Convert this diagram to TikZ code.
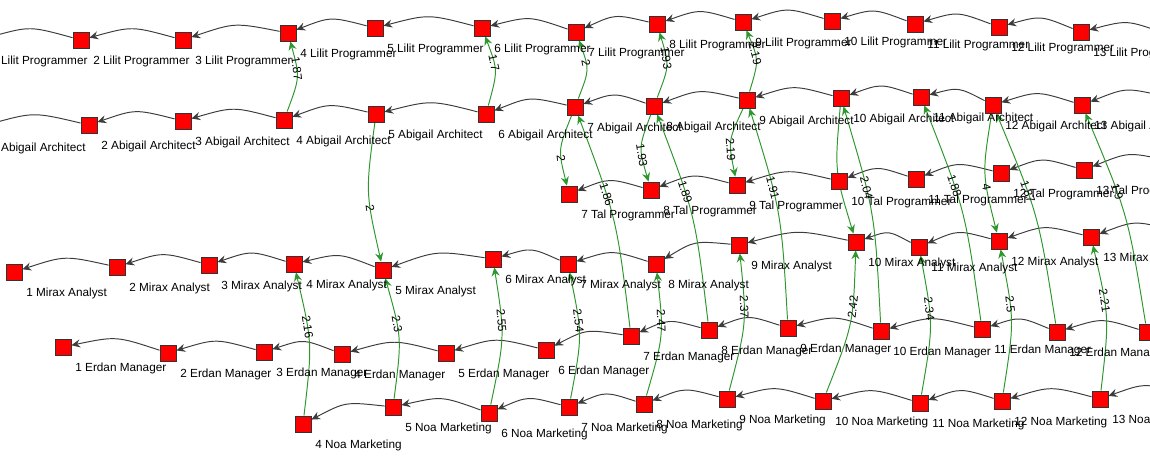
\documentclass[tikz,border=0pt]{standalone}
\usepackage{fontspec}
\setmainfont{Liberation Sans}
\usepackage{xcolor}
\usepackage{tikz}
\usetikzlibrary{arrows.meta, calc}

\pgfdeclarelayer{edges}
\pgfsetlayers{edges,main}

\definecolor{linkgreen}{RGB}{45,150,45}
\definecolor{rowgray}{RGB}{60,60,60}

\tikzset{
  box/.style={draw=black!80, fill=red, line width=0.5pt, minimum size=0.32cm, inner sep=0pt},
  vlabel/.style={anchor=west, inner sep=0pt, font=\fontsize{6.7}{8}\selectfont},
  qcurve/.style={to path={.. controls ($(\tikztostart)!0.5!(\tikztotarget)!0.28cm!-90:(\tikztotarget)$) .. (\tikztotarget) \tikztonodes}},
  row/.style={qcurve, draw=rowgray, line width=0.55pt, -{Stealth[length=5pt, width=4.6pt, inset=1.7pt]}},
  link/.style={qcurve, draw=linkgreen, line width=0.55pt, -{Stealth[length=5pt, width=4.6pt, inset=1.7pt]}},
  w/.style={pos=0.65, sloped, inner sep=0.5pt, font=\fontsize{6.7}{8}\selectfont}
}

% vertex with its label
\newcommand{\vtx}[4]{%
  \node[box] (#1) at (#2,#3) {};
  \node[vlabel] (#1t) at ([shift={(12,21)}]#1.center) {#4};}

\begin{document}
\begin{tikzpicture}[x=0.02cm, y=-0.02cm]
    \useasboundingbox (0,0) rectangle (1150,462);
    \clip (0,0) rectangle (1150,462);

    % Lilit Programmer
    \vtx{L1}{-21}{40}{1 Lilit Programmer}
    \vtx{L2}{81}{40}{2 Lilit Programmer}
    \vtx{L3}{183}{40}{3 Lilit Programmer}
    \vtx{L4}{288}{33}{4 Lilit Programmer}
    \vtx{L5}{375}{28}{5 Lilit Programmer}
    \vtx{L6}{482}{28}{6 Lilit Programmer}
    \vtx{L7}{576}{32}{7 Lilit Programmer}
    \vtx{L8}{657}{24}{8 Lilit Programmer}
    \vtx{L9}{743}{22}{9 Lilit Programmer}
    \vtx{L10}{832}{21}{10 Lilit Programmer}
    \vtx{L11}{915}{24}{11 Lilit Programmer}
    \vtx{L12}{999}{27}{12 Lilit Programmer}
    \vtx{L13}{1081}{32}{13 Lilit Programmer}
    \vtx{L14}{1172}{36}{14 Lilit Programmer}

    % Abigail Architect
    \vtx{A1}{-21}{127}{1 Abigail Architect}
    \vtx{A2}{89}{125}{2 Abigail Architect}
    \vtx{A3}{183}{121}{3 Abigail Architect}
    \vtx{A4}{284}{120}{4 Abigail Architect}
    \vtx{A5}{376}{114}{5 Abigail Architect}
    \vtx{A6}{486}{114}{6 Abigail Architect}
    \vtx{A7}{575}{107}{7 Abigail Architect}
    \vtx{A8}{654}{106}{8 Abigail Architect}
    \vtx{A9}{747}{100}{9 Abigail Architect}
    \vtx{A10}{841}{98}{10 Abigail Architect}
    \vtx{A11}{921}{97}{11 Abigail Architect}
    \vtx{A12}{993}{105}{12 Abigail Architect}
    \vtx{A13}{1082}{105}{13 Abigail Architect}
    \vtx{A14}{1172}{98}{14 Abigail Architect}

    % Tal Programmer
    \vtx{T7}{569}{194}{7 Tal Programmer}
    \vtx{T8}{651}{190}{8 Tal Programmer}
    \vtx{T9}{737}{185}{9 Tal Programmer}
    \vtx{T10}{839}{181}{10 Tal Programmer}
    \vtx{T11}{916}{179}{11 Tal Programmer}
    \vtx{T12}{1001}{173}{12 Tal Programmer}
    \vtx{T13}{1084}{170}{13 Tal Programmer}
    \vtx{T14}{1175}{162}{14 Tal Programmer}

    % Mirax Analyst
    \vtx{M1}{14}{272}{1 Mirax Analyst}
    \vtx{M2}{117}{267}{2 Mirax Analyst}
    \vtx{M3}{209}{265}{3 Mirax Analyst}
    \vtx{M4}{294}{264}{4 Mirax Analyst}
    \vtx{M5}{383}{270}{5 Mirax Analyst}
    \vtx{M6}{493}{259}{6 Mirax Analyst}
    \vtx{M7}{568}{264}{7 Mirax Analyst}
    \vtx{M8}{656}{264}{8 Mirax Analyst}
    \vtx{M9}{739}{245}{9 Mirax Analyst}
    \vtx{M10}{856}{242}{10 Mirax Analyst}
    \vtx{M11}{919}{247}{11 Mirax Analyst}
    \vtx{M12}{999}{241}{12 Mirax Analyst}
    \vtx{M13}{1091}{237}{13 Mirax Analyst}
    \vtx{M14}{1180}{232}{14 Mirax Analyst}

    % Erdan Manager
    \vtx{E1}{63}{347}{1 Erdan Manager}
    \vtx{E2}{168}{353}{2 Erdan Manager}
    \vtx{E3}{264}{352}{3 Erdan Manager}
    \vtx{E4}{342}{354}{4 Erdan Manager}
    \vtx{E5}{446}{353}{5 Erdan Manager}
    \vtx{E6}{546}{350}{6 Erdan Manager}
    \vtx{E7}{631}{336}{7 Erdan Manager}
    \vtx{E8}{709}{330}{8 Erdan Manager}
    \vtx{E9}{788}{328}{9 Erdan Manager}
    \vtx{E10}{881}{331}{10 Erdan Manager}
    \vtx{E11}{982}{329}{11 Erdan Manager}
    \vtx{E12}{1057}{332}{12 Erdan Manager}
    \vtx{E13}{1147}{332}{13 Erdan Manager}

    % Noa Marketing
    \vtx{N4}{303}{424}{4 Noa Marketing}
    \vtx{N5}{393}{407}{5 Noa Marketing}
    \vtx{N6}{489}{413}{6 Noa Marketing}
    \vtx{N7}{569}{407}{7 Noa Marketing}
    \vtx{N8}{644}{404}{8 Noa Marketing}
    \vtx{N9}{727}{399}{9 Noa Marketing}
    \vtx{N10}{823}{401}{10 Noa Marketing}
    \vtx{N11}{920}{403}{11 Noa Marketing}
    \vtx{N12}{1002}{401}{12 Noa Marketing}
    \vtx{N13}{1100}{399}{13 Noa Marketing}
    \vtx{N14}{1190}{395}{14 Noa Marketing}

    \begin{pgfonlayer}{edges}
    \clip (0,0) rectangle (1150,462);
    % row chains
    \draw[row] (L2) to (L1);  \draw[row] (L3) to (L2);  \draw[row] (L4) to (L3);
    \draw[row] (L5) to (L4);  \draw[row] (L6) to (L5);  \draw[row] (L7) to (L6);
    \draw[row] (L8) to (L7);  \draw[row] (L9) to (L8);  \draw[row] (L10) to (L9);
    \draw[row] (L11) to (L10); \draw[row] (L12) to (L11); \draw[row] (L13) to (L12);
    \draw[row] (L14) to (L13);

    \draw[row] (A2) to (A1);  \draw[row] (A3) to (A2);  \draw[row] (A4) to (A3);
    \draw[row] (A5) to (A4);  \draw[row] (A6) to (A5);  \draw[row] (A7) to (A6);
    \draw[row] (A8) to (A7);  \draw[row] (A9) to (A8);  \draw[row] (A10) to (A9);
    \draw[row] (A11) to (A10); \draw[row] (A12) to (A11); \draw[row] (A13) to (A12);
    \draw[row] (A14) to (A13);

    \draw[row] (T8) to (T7);  \draw[row] (T9) to (T8);  \draw[row] (T10) to (T9);
    \draw[row] (T11) to (T10); \draw[row] (T12) to (T11); \draw[row] (T13) to (T12);
    \draw[row] (T14) to (T13);

    \draw[row] (M2) to (M1);  \draw[row] (M3) to (M2);  \draw[row] (M4) to (M3);
    \draw[row] (M5) to (M4);  \draw[row] (M6) to (M5);  \draw[row] (M7) to (M6);
    \draw[row] (M8) to (M7);  \draw[row] (M9) to (M8);  \draw[row] (M10) to (M9);
    \draw[row] (M11) to (M10); \draw[row] (M12) to (M11); \draw[row] (M13) to (M12);
    \draw[row] (M14) to (M13);

    \draw[row] (E2) to (E1);  \draw[row] (E3) to (E2);  \draw[row] (E4) to (E3);
    \draw[row] (E5) to (E4);  \draw[row] (E6) to (E5);  \draw[row] (E7) to (E6);
    \draw[row] (E8) to (E7);  \draw[row] (E9) to (E8);  \draw[row] (E10) to (E9);
    \draw[row] (E11) to (E10); \draw[row] (E12) to (E11); \draw[row] (E13) to (E12);

    \draw[row] (N5) to (N4);  \draw[row] (N6) to (N5);  \draw[row] (N7) to (N6);
    \draw[row] (N8) to (N7);  \draw[row] (N9) to (N8);  \draw[row] (N10) to (N9);
    \draw[row] (N11) to (N10); \draw[row] (N12) to (N11); \draw[row] (N13) to (N12);
    \draw[row] (N14) to (N13);

    % links up to Lilit
    \draw[link] (A4) to node[w] {1.87} (L4);
    \draw[link] (A6) to node[w] {1.7} (L6);
    \draw[link] (A7) to node[w] {2} (L7);
    \draw[link] (A8) to node[w] {1.93} (L8);
    \draw[link] (A9) to node[w] {2.19} (L9);

    % links down from Abigail
    \draw[link] (A5) to node[w] {2} (M5);
    \draw[link] (A7) to node[w] {2} (T7);
    \draw[link] (A8) to node[w] {1.93} (T8);
    \draw[link] (A9) to node[w] {2.19} (T9);
    \draw[link] (A10) to node[w] {3} (M10);
    \draw[link] (A12) to node[w] {4} (M12);

    % links up from Noa
    \draw[link] (N4) to node[w] {2.16} (M4);
    \draw[link] (N5) to node[w] {2.3} (M5);
    \draw[link] (N6) to node[w] {2.55} (M6);
    \draw[link] (N7) to node[w] {2.54} (M7);
    \draw[link] (N8) to node[w] {2.47} (M8);
    \draw[link] (N9) to node[w] {2.37} (M9);
    \draw[link] (N10) to node[w] {2.42} (M10);
    \draw[link] (N11) to node[w] {2.34} (M11);
    \draw[link] (N12) to node[w] {2.5} (M12);
    \draw[link] (N13) to node[w] {2.21} (M13);

    % links up from Erdan
    \draw[link] (E7) to node[w] {1.86} (A7);
    \draw[link] (E8) to node[w] {1.89} (A8);
    \draw[link] (E9) to node[w] {1.91} (A9);
    \draw[link] (E10) to node[w] {2.04} (A10);
    \draw[link] (E11) to node[w] {1.88} (A11);
    \draw[link] (E12) to node[w] {1.87} (A12);
    \draw[link] (E13) to node[w] {1.9} (A13);
    \end{pgfonlayer}
\end{tikzpicture}
\end{document}
